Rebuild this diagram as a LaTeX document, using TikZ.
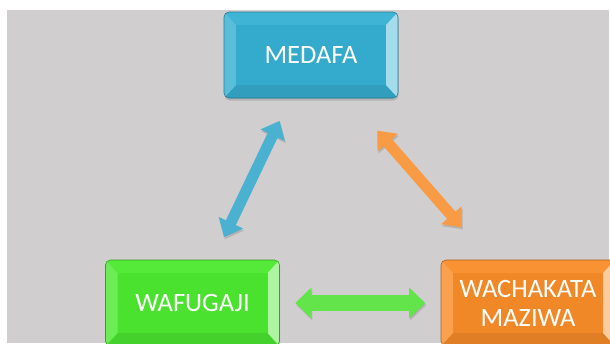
\documentclass[tikz,border=0pt]{standalone}
\usepackage{fontspec}
\setmainfont{Carlito}
\usetikzlibrary{arrows.meta,shadows}
\definecolor{bggrey}{HTML}{D0CECF}
\definecolor{medblue}{HTML}{36B0D2}
\definecolor{wafgreen}{HTML}{4CE830}
\definecolor{wachor}{HTML}{F88C28}
\definecolor{arrblue}{HTML}{4AB2D0}
\definecolor{arrorange}{HTML}{F99A44}
\definecolor{arrgreen}{HTML}{62E44A}
\tikzset{
  bx/.style={rounded corners=5pt, fill=#1, draw=#1!70!black, line width=0.6pt,
    minimum width=174pt, minimum height=86pt, inner sep=0pt, text=white,
    font=\fontsize{26.5}{29}\selectfont, align=center,
    drop shadow={opacity=0.35, shadow xshift=0.5pt, shadow yshift=-2.5pt},
    path picture={
      \begin{scope}[sharp corners]
      \fill[#1!95!white] (path picture bounding box.north west) -- (path picture bounding box.north east)
        -- ([shift={(-12pt,-13pt)}]path picture bounding box.north east) -- ([shift={(12pt,-13pt)}]path picture bounding box.north west) -- cycle;
      \fill[#1!90!black] (path picture bounding box.south west) -- (path picture bounding box.south east)
        -- ([shift={(-12pt,13pt)}]path picture bounding box.south east) -- ([shift={(12pt,13pt)}]path picture bounding box.south west) -- cycle;
      \fill[#1!82!white] (path picture bounding box.south west) -- (path picture bounding box.north west)
        -- ([shift={(12pt,-13pt)}]path picture bounding box.north west) -- ([shift={(12pt,13pt)}]path picture bounding box.south west) -- cycle;
      \fill[#1!45!white] (path picture bounding box.south east) -- (path picture bounding box.north east)
        -- ([shift={(-12pt,-13pt)}]path picture bounding box.north east) -- ([shift={(-12pt,13pt)}]path picture bounding box.south east) -- cycle;
      \fill[#1!97!black] ([shift={(12pt,-13pt)}]path picture bounding box.north west) rectangle ([shift={(-12pt,13pt)}]path picture bounding box.south east);
      \end{scope}
    }},
  arr/.style n args={4}{draw=#1, line width=#2,
    {Triangle[width=#3,length=16pt]}-{Triangle[width=#3,length=16pt]},
    shorten <=#4, shorten >=#4,
    preaction={draw=black!60, opacity=0.25, transform canvas={shift={(1pt,-2pt)}}}}
}
\begin{document}
\begin{tikzpicture}[x=1pt,y=-1pt]
  \useasboundingbox (0,0) rectangle (610,343);
  \clip (0,0) rectangle (610,343);
  \fill[white] (0,0) rectangle (610,343);
  \fill[bggrey] (7,10) rectangle (609,343);
  \node[bx=medblue] (medafa) at (311,55) {MEDAFA};
  \node[bx=wafgreen] (wafugaji) at (192.5,303) {WAFUGAJI};
  \node[bx=wachor] (wachakata) at (528,303) {WACHAKATA\\MAZIWA};
  \draw[arr={arrblue}{11pt}{26pt}{25pt}] (medafa) -- (wafugaji);
  \draw[arr={arrorange}{11pt}{26pt}{43pt}] (medafa) -- (wachakata);
  \draw[arr={arrgreen}{16pt}{30pt}{15.5pt}] (wafugaji) -- (wachakata);
\end{tikzpicture}
\end{document}
